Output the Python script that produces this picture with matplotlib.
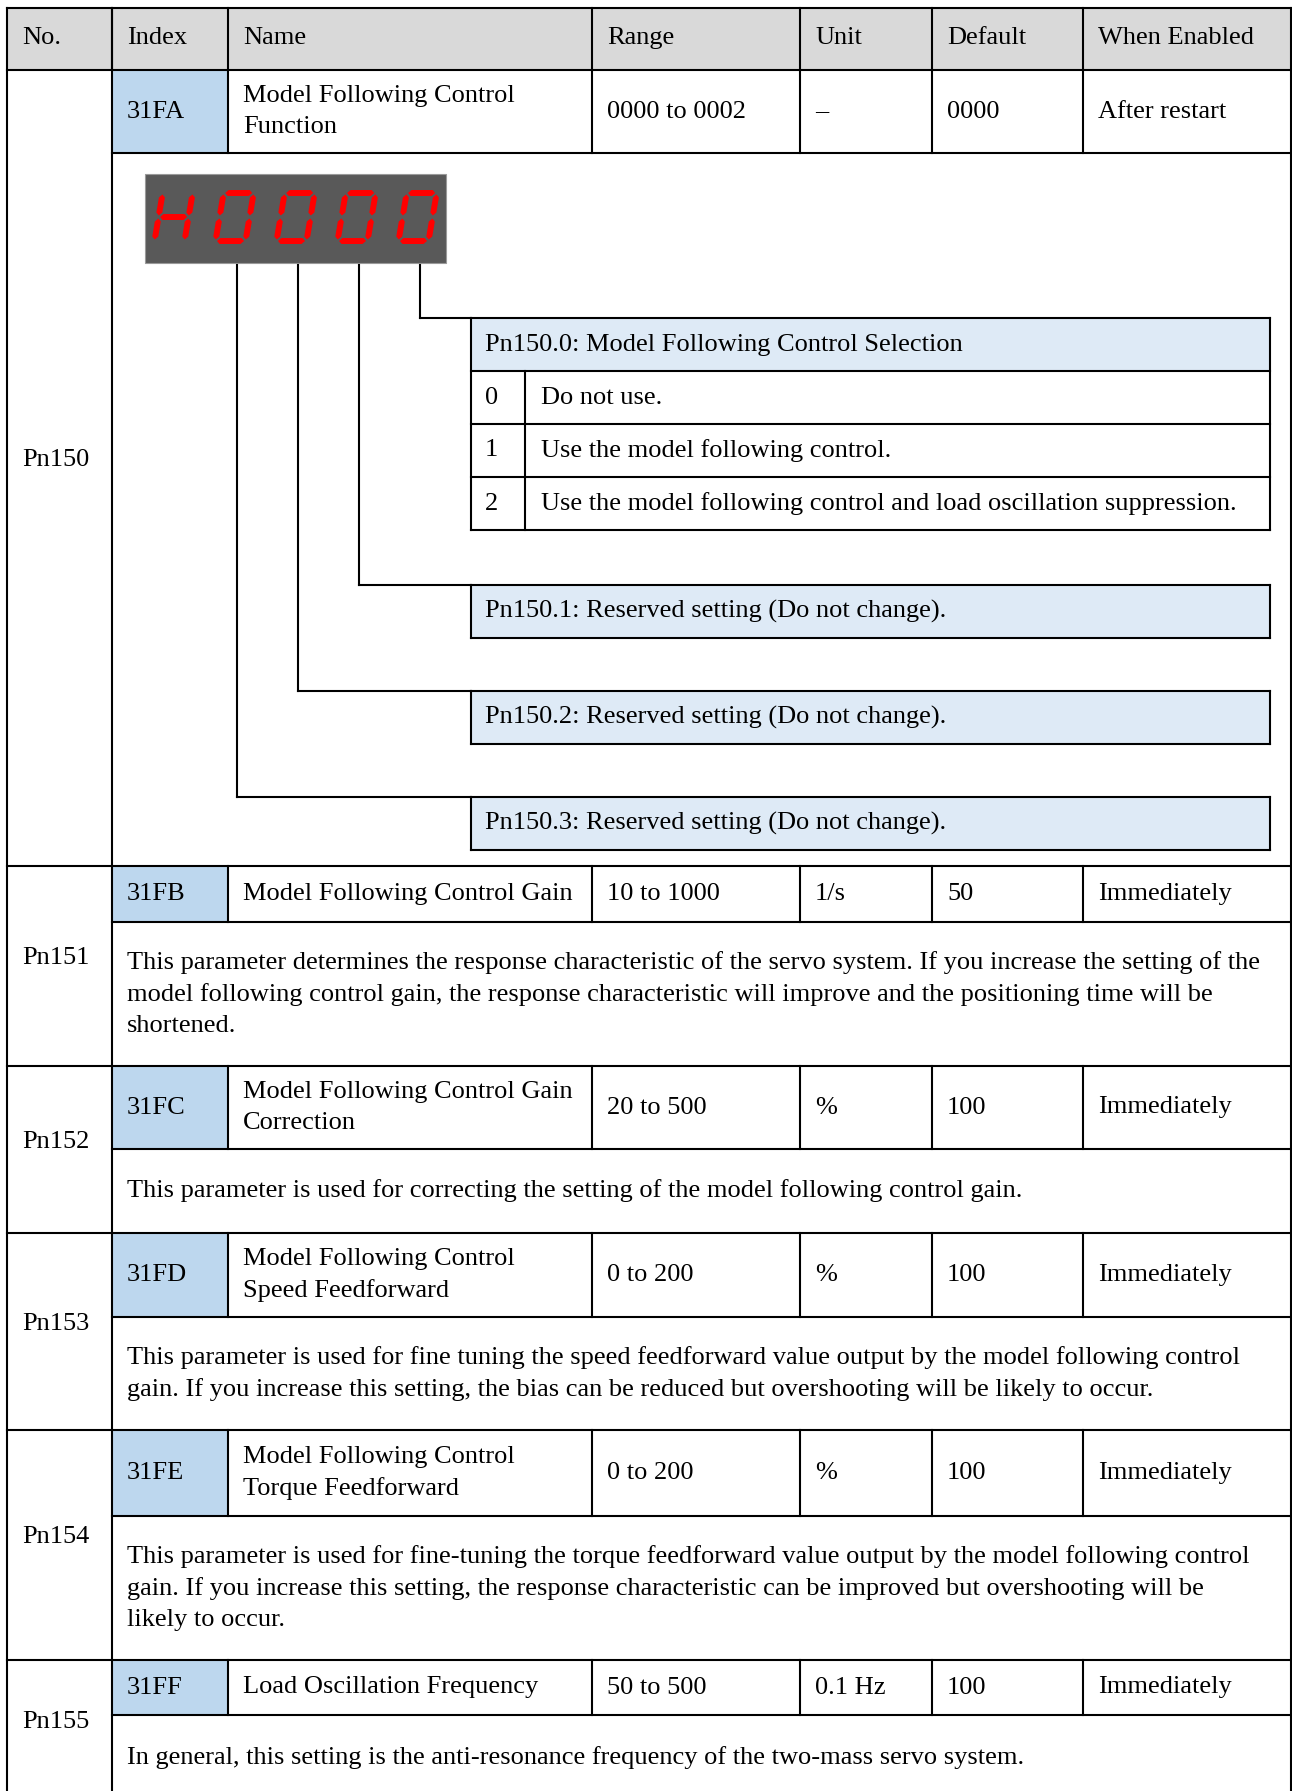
import matplotlib
matplotlib.use("Agg")
import matplotlib.pyplot as plt
from matplotlib.patches import Rectangle, Polygon

W, H = 1292, 1791

# table content
headers = ["No.", "Index", "Name", "Range", "Unit", "Default", "When Enabled"]
params = ["Pn150", "Pn151", "Pn152", "Pn153", "Pn154", "Pn155"]
indexes = ["31FA", "31FB", "31FC", "31FD", "31FE", "31FF"]
names = ["Model Following Control\nFunction",
         "Model Following Control Gain",
         "Model Following Control Gain\nCorrection",
         "Model Following Control\nSpeed Feedforward",
         "Model Following Control\nTorque Feedforward",
         "Load Oscillation Frequency"]
ranges = ["0000 to 0002", "10 to 1000", "20 to 500", "0 to 200", "0 to 200", "50 to 500"]
units = ["\u2013", "1/s", "%", "%", "%", "0.1 Hz"]
defaults = ["0000", "50", "100", "100", "100", "100"]
enabled = ["After restart", "Immediately", "Immediately", "Immediately", "Immediately", "Immediately"]
descriptions = [
    None,
    "This parameter determines the response characteristic of the servo system. If you increase the setting of the\n"
    "model following control gain, the response characteristic will improve and the positioning time will be\n"
    "shortened.",
    "This parameter is used for correcting the setting of the model following control gain.",
    "This parameter is used for fine tuning the speed feedforward value output by the model following control\n"
    "gain. If you increase this setting, the bias can be reduced but overshooting will be likely to occur.",
    "This parameter is used for fine-tuning the torque feedforward value output by the model following control\n"
    "gain. If you increase this setting, the response characteristic can be improved but overshooting will be\n"
    "likely to occur.",
    "In general, this setting is the anti-resonance frequency of the two-mass servo system.",
]

display_text = "H0000"
digit_titles = ["Pn150.0: Model Following Control Selection",
                "Pn150.1: Reserved setting (Do not change).",
                "Pn150.2: Reserved setting (Do not change).",
                "Pn150.3: Reserved setting (Do not change)."]
sel_values = ["0", "1", "2"]
sel_texts = ["Do not use.",
             "Use the model following control.",
             "Use the model following control and load oscillation suppression."]

# layout (pixels)
col_x = [7, 112, 228, 592, 800, 932, 1083, 1291]
head_top, head_bot = 8, 70
blocks = [(70, 153, 866), (866, 922, 1066), (1066, 1149, 1233),
          (1233, 1317, 1430), (1430, 1516, 1660), (1660, 1715, 1800)]

FONT = "Liberation Serif"
FS = 19
LW = 1.5
GRAY = "#D9D9D9"
BLUE = "#BDD7EE"
LIGHT = "#DEEAF6"

fig = plt.figure(figsize=(W / 100, H / 100), dpi=100)
ax = fig.add_axes([0, 0, 1, 1])
ax.set_xlim(0, W)
ax.set_ylim(H, 0)
ax.axis("off")


def line(x1, y1, x2, y2, lw=LW):
    ax.plot([x1, x2], [y1, y2], color="black", lw=lw, solid_capstyle="projecting")


def txt(x, y, s, **kw):
    ax.text(x, y, s, fontsize=kw.pop("fs", FS), family=FONT, va="center", ha="left",
            linespacing=1.5, **kw)


# header
ax.add_patch(Rectangle((col_x[0], head_top), col_x[-1] - col_x[0], head_bot - head_top, color=GRAY, lw=0))
for i, h in enumerate(headers):
    txt(col_x[i] + 15, (head_top + head_bot) / 2 - 1, h)

cells = list(zip(indexes, names, ranges, units, defaults, enabled))
for k, (top, sub, bot) in enumerate(blocks):
    ax.add_patch(Rectangle((col_x[1], top), col_x[2] - col_x[1], sub - top, color=BLUE, lw=0))
    mid = (top + sub) / 2
    for i, s in enumerate(cells[k]):
        txt(col_x[i + 1] + 15, mid, s)
    txt(col_x[0] + 15, (top + bot) / 2 - 8, params[k])
    if descriptions[k]:
        txt(col_x[1] + 15, (sub + bot) / 2, descriptions[k])
    line(col_x[1], sub, col_x[-1], sub)
    line(col_x[0], top, col_x[-1], top)
    for x in col_x[2:-1]:
        line(x, top, x, sub)

line(col_x[0], head_top, col_x[-1], head_top)
for x in col_x[1:-1]:
    line(x, head_top, x, head_bot)
for x in (col_x[0], col_x[1], col_x[-1]):
    line(x, head_top, x, blocks[-1][2])

# seven segment display
disp_x0, disp_y0, disp_x1, disp_y1 = 145, 174, 446, 263
ax.add_patch(Rectangle((disp_x0, disp_y0), disp_x1 - disp_x0, disp_y1 - disp_y0,
                       facecolor="#595959", edgecolor="#9a9a9a", lw=0.8))
seg_map = {"H": "bcefg", "0": "abcdef"}
dw, dh, t, gap, slant = 36, 54, 6, 1.5, 0.17
digit_left = [151, 212, 273, 334, 395]


def seg_poly(x0, y0, kind):
    hh = t / 2
    if kind in "adg":
        vc = {"a": hh, "g": dh / 2, "d": dh - hh}[kind]
        u1, u2 = hh + gap, dw - hh - gap
        pts = [(u1, vc), (u1 + hh, vc - hh), (u2 - hh, vc - hh), (u2, vc), (u2 - hh, vc + hh), (u1 + hh, vc + hh)]
    else:
        uc = hh if kind in "ef" else dw - hh
        if kind in "bf":
            v1, v2 = hh + gap, dh / 2 - gap
        else:
            v1, v2 = dh / 2 + gap, dh - hh - gap
        pts = [(uc, v1), (uc + hh, v1 + hh), (uc + hh, v2 - hh), (uc, v2), (uc - hh, v2 - hh), (uc - hh, v1 + hh)]
    return [(x0 + u + slant * (dh - v), y0 + v) for u, v in pts]


for ch, xl in zip(display_text, digit_left):
    for s in seg_map[ch]:
        ax.add_patch(Polygon(seg_poly(xl, 190, s), closed=True, color="#FF0000", lw=0))

# digit boxes with leader lines
box_x0, box_x1 = 471, 1270
box_tops = [318, 585, 691, 797]
box_h = 53
leader_x = [xl + 25 for xl in digit_left[1:]][::-1]
for k, title in enumerate(digit_titles):
    bt = box_tops[k]
    line(leader_x[k], 265, leader_x[k], bt)
    line(leader_x[k], bt, box_x0, bt)
    ax.add_patch(Rectangle((box_x0, bt), box_x1 - box_x0, box_h, color=LIGHT, lw=0))
    txt(box_x0 + 14, bt + box_h / 2, title)
    nrows = len(sel_values) if k == 0 else 0
    bb = bt + box_h * (1 + nrows)
    for x in (box_x0, box_x1):
        line(x, bt, x, bb)
    line(box_x0, bt, box_x1, bt)
    line(box_x0, bb, box_x1, bb)
    for r in range(nrows):
        ry = bt + box_h * (1 + r)
        line(box_x0, ry, box_x1, ry)
        txt(box_x0 + 14, ry + box_h / 2, sel_values[r])
        txt(box_x0 + 70, ry + box_h / 2, sel_texts[r])
    if nrows:
        line(box_x0 + 54, bt + box_h, box_x0 + 54, bb)

fig.savefig("out.png", dpi=100, facecolor="white")
